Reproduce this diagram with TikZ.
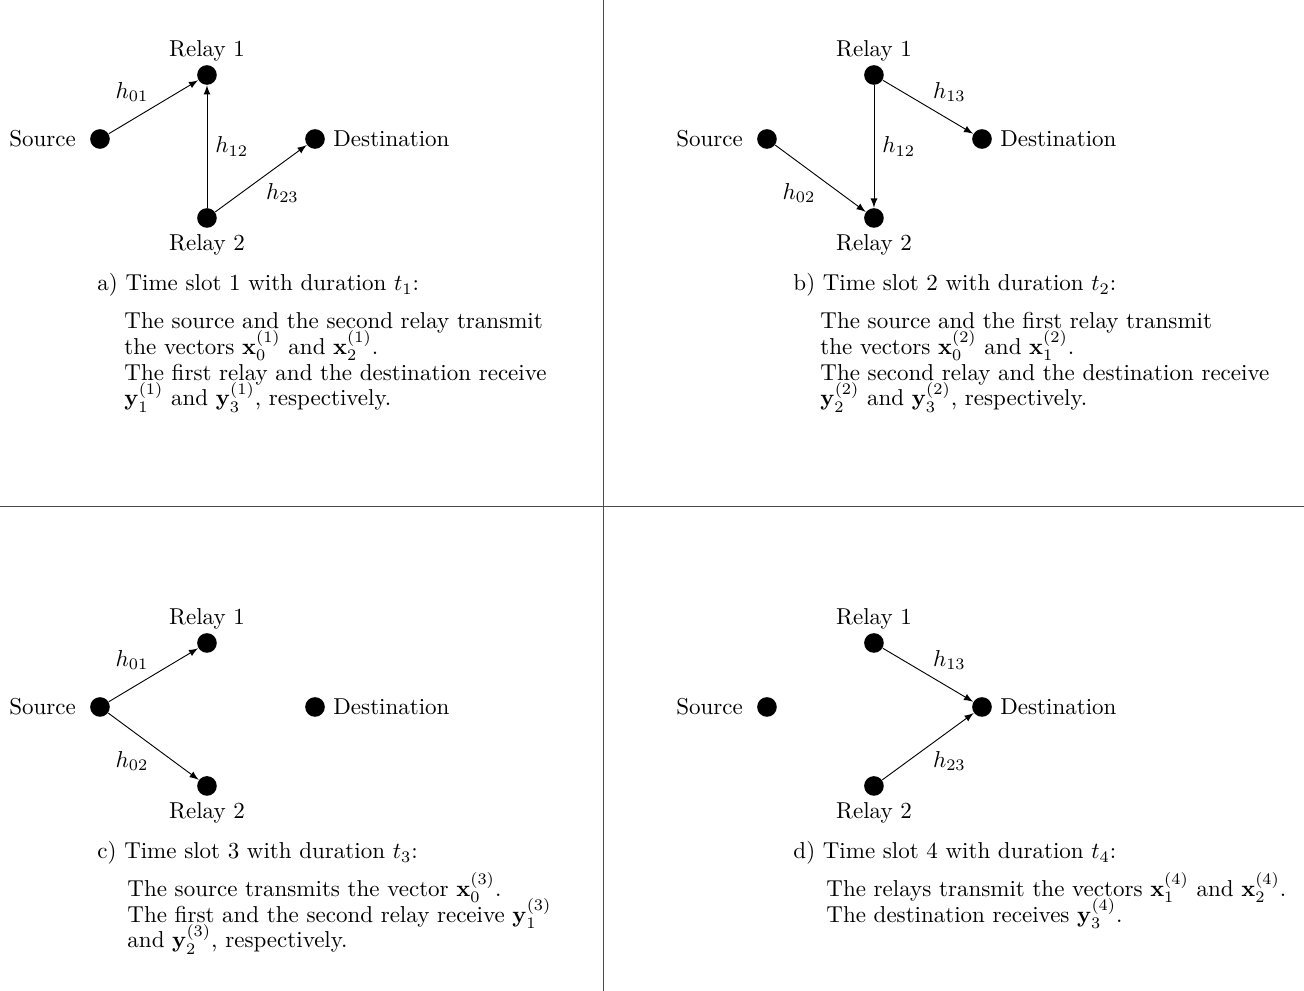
\documentclass[tikz,border=0pt]{standalone}
\usepackage{amsmath}
\usepackage{tikz}
\usetikzlibrary{arrows}
\newcommand{\tightlines}{\lineskiplimit=-10pt\relax}
\tikzset{
	>=latex,
	dot/.style={
		circle,
		fill=black,
		inner sep=0pt,
		minimum size=0.3cm},
	link/.style={draw, thin, ->},
	chan/.style={midway, inner sep=2pt},
	slothead/.style={anchor=base west, inner sep=0pt},
	slotbody/.style={
		anchor=base west,
		inner sep=0pt,
		text width=7.6cm,
		align=left,
		font=\fontsize{10}{11.3}\selectfont\tightlines},
	divider/.style={draw, thin, black!70},
}
% the four nodes of the relay network, #1 is a prefix for the names
\newcommand{\netnodes}[1]{%
	\node[dot, label={[label distance=2.5pt]left:Source}] (#1s) at (1.528,-2.124) {};
	\node[dot, label={[label distance=-2pt]above:Relay 1}] (#1r1) at (3.163,-1.146) {};
	\node[dot, label={[label distance=-1pt]below:Relay 2}] (#1r2) at (3.163,-3.331) {};
	\node[dot, label=right:Destination] (#1d) at (4.814,-2.124) {};
}

\begin{document}
\begin{tikzpicture}
	\useasboundingbox (0,0) rectangle (19.928,-15.144);
	\coordinate (vtop) at (9.223,0);
	\coordinate (vbot) at (9.223,-15.144);
	\coordinate (hleft) at (0,-7.743);
	\coordinate (hright) at (19.928,-7.743);
	\draw[divider] (vtop) -- (vbot);
	\draw[divider] (hleft) -- (hright);

	% a) time slot 1
	\begin{scope}
		\netnodes{a}
		\path[link] (as) -- (ar1) node[chan, above left] (ah01) {$h_{01}$};
		\path[link] (ar2) -- (ar1) node[chan, right, inner sep=3.5pt] (ah12) {$h_{12}$};
		\path[link] (ar2) -- (ad) node[chan, below right] (ah23) {$h_{23}$};
		\node[slothead] (ahead) at (1.482,-4.447) {a) Time slot 1 with duration $t_1$:};
		\node[slotbody] (abody) at (1.895,-5.013) {The source and the second relay transmit\\
			the vectors $\mathbf{x}_0^{(1)}$ and $\mathbf{x}_2^{(1)}$.\\
			The first relay and the destination receive\\
			$\mathbf{y}_1^{(1)}$ and $\mathbf{y}_3^{(1)}$, respectively.};
	\end{scope}

	% b) time slot 2
	\begin{scope}[shift={(10.193,0)}]
		\netnodes{b}
		\path[link] (bs) -- (br2) node[chan, below left] (bh02) {$h_{02}$};
		\path[link] (br1) -- (br2) node[chan, right, inner sep=3.5pt] (bh12) {$h_{12}$};
		\path[link] (br1) -- (bd) node[chan, above right] (bh13) {$h_{13}$};
		\node[slothead] (bhead) at (1.926,-4.447) {b) Time slot 2 with duration $t_2$:};
		\node[slotbody] (bbody) at (2.338,-5.013) {The source and the first relay transmit\\
			the vectors $\mathbf{x}_0^{(2)}$ and $\mathbf{x}_1^{(2)}$.\\
			The second relay and the destination receive\\
			$\mathbf{y}_2^{(2)}$ and $\mathbf{y}_3^{(2)}$, respectively.};
	\end{scope}

	% c) time slot 3
	\begin{scope}[shift={(0,-8.680)}]
		\netnodes{c}
		\path[link] (cs) -- (cr1) node[chan, above left] (ch01) {$h_{01}$};
		\path[link] (cs) -- (cr2) node[chan, below left] (ch02) {$h_{02}$};
		\node[slothead] (chead) at (1.482,-4.447) {c) Time slot 3 with duration $t_3$:};
		\node[slotbody] (cbody) at (1.941,-5.013) {The source transmits the vector $\mathbf{x}_0^{(3)}$.\\
			The first and the second relay receive $\mathbf{y}_1^{(3)}$\\
			and $\mathbf{y}_2^{(3)}$, respectively.};
	\end{scope}

	% d) time slot 4
	\begin{scope}[shift={(10.193,-8.680)}]
		\netnodes{d}
		\path[link] (dr1) -- (dd) node[chan, above right] (dh13) {$h_{13}$};
		\path[link] (dr2) -- (dd) node[chan, below right] (dh23) {$h_{23}$};
		\node[slothead] (dhead) at (1.926,-4.447) {d) Time slot 4 with duration $t_4$:};
		\node[slotbody] (dbody) at (2.430,-5.013) {The relays transmit the vectors $\mathbf{x}_1^{(4)}$ and $\mathbf{x}_2^{(4)}$.\\
			The destination receives $\mathbf{y}_3^{(4)}$.};
	\end{scope}
\end{tikzpicture}
\end{document}
